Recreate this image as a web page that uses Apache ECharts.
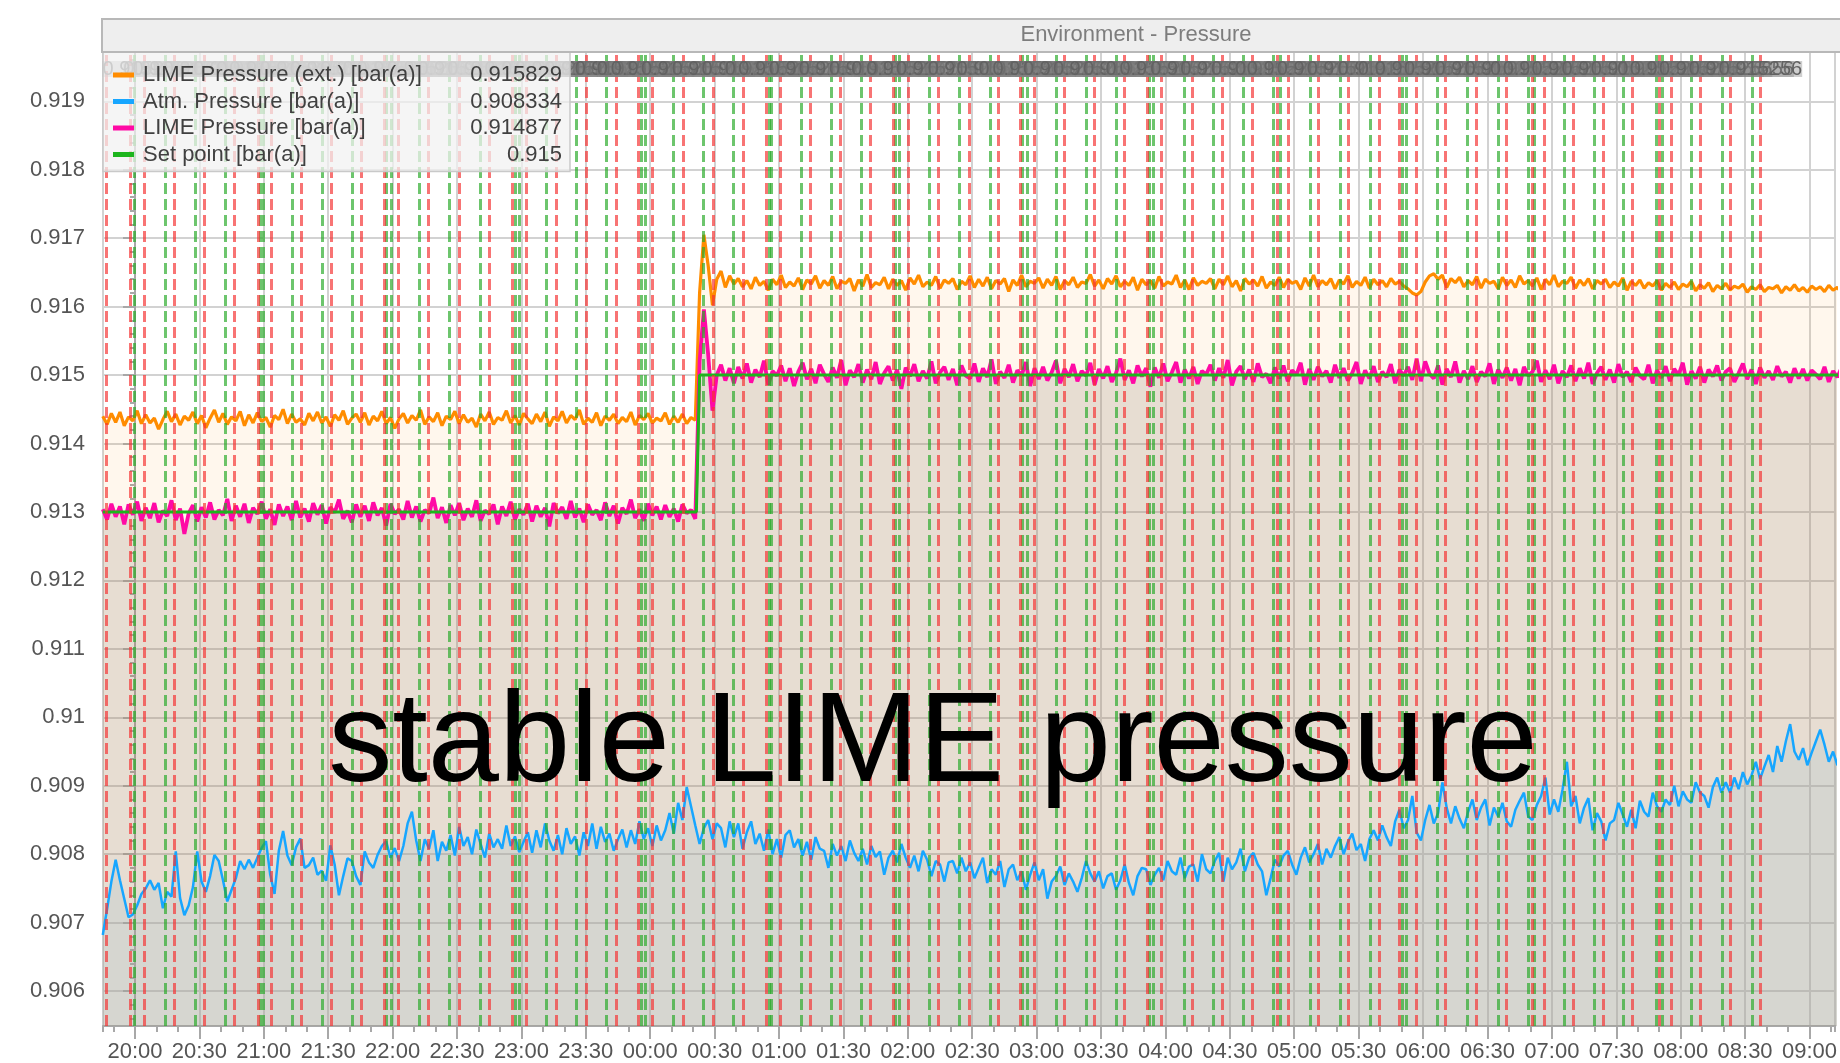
<!DOCTYPE html>
<html><head><meta charset="utf-8">
<script src="https://cdn.jsdelivr.net/npm/echarts@6/dist/echarts.min.js"></script>
<style>html,body{margin:0;padding:0;background:#fff;}#chart{width:1840px;height:1063px;}</style>
</head><body><div id="chart"></div>
<script>
// ---------- data ----------
const chartTitle = 'Environment - Pressure';
const annotationText = 'stable LIME pressure';
const seriesNames = ['LIME Pressure (ext.) [bar(a)]', 'Atm. Pressure [bar(a)]', 'LIME Pressure [bar(a)]', 'Set point [bar(a)]'];
const legendValues = ['0.915829', '0.908334', '0.914877', '0.915'];
const markerLabelText = '0.915256';
const limeStepMin = 2;   // sampling of both LIME pressure series
const atmStepMin = 2;    // sampling of the atmospheric pressure series

const limeExtBeforeStart = '19:45';
const limeExtBefore = [
0.91440,0.91428,0.91444,0.91431,0.91446,0.91426,0.91439,0.91433,0.91448,0.91429,
0.91442,0.91430,0.91437,0.91421,0.91435,0.91447,0.91432,0.91443,0.91427,0.91440,
0.91434,0.91446,0.91429,0.91441,0.91423,0.91437,0.91449,0.91431,0.91444,0.91428,
0.91439,0.91433,0.91447,0.91426,0.91442,0.91430,0.91445,0.91432,0.91438,0.91424,
0.91441,0.91435,0.91450,0.91429,0.91443,0.91431,0.91436,0.91427,0.91444,0.91433,
0.91446,0.91430,0.91439,0.91425,0.91442,0.91434,0.91448,0.91428,0.91437,0.91443,
0.91431,0.91445,0.91427,0.91440,0.91433,0.91447,0.91429,0.91438,0.91422,0.91436,
0.91444,0.91430,0.91441,0.91434,0.91449,0.91428,0.91439,0.91432,0.91445,0.91426,
0.91440,0.91435,0.91447,0.91429,0.91442,0.91431,0.91437,0.91424,0.91443,0.91433,
0.91446,0.91428,0.91438,0.91434,0.91448,0.91430,0.91441,0.91427,0.91444,0.91436,
0.91429,0.91443,0.91432,0.91446,0.91425,0.91439,0.91433,0.91447,0.91430,0.91441,
0.91435,0.91449,0.91428,0.91437,0.91431,0.91445,0.91426,0.91440,0.91434,0.91443,
0.91429,0.91438,0.91432,0.91446,0.91427,0.91441,0.91435,0.91444,0.91430,0.91437,
0.91433,0.91445,0.91428,0.91440,0.91431,0.91443,0.91429,0.91438,0.91434];
const limeExtAfterStart = '00:23';
const limeExtAfter = [
0.91620,0.91705,0.91660,0.91602,0.91640,0.91652,0.91628,0.91645,0.91633,0.91641,
0.91629,0.91638,0.91626,0.91643,0.91631,0.91637,0.91624,0.91640,0.91632,0.91646,
0.91628,0.91636,0.91630,0.91642,0.91625,0.91639,0.91633,0.91645,0.91627,0.91638,
0.91631,0.91644,0.91626,0.91637,0.91634,0.91641,0.91623,0.91639,0.91630,0.91647,
0.91628,0.91635,0.91632,0.91643,0.91626,0.91640,0.91631,0.91638,0.91624,0.91642,
0.91633,0.91646,0.91629,0.91636,0.91631,0.91644,0.91627,0.91639,0.91634,0.91641,
0.91625,0.91637,0.91632,0.91645,0.91628,0.91640,0.91630,0.91643,0.91626,0.91638,
0.91633,0.91641,0.91622,0.91639,0.91631,0.91646,0.91629,0.91637,0.91634,0.91642,
0.91627,0.91640,0.91631,0.91644,0.91625,0.91638,0.91632,0.91643,0.91628,0.91636,
0.91634,0.91647,0.91630,0.91639,0.91626,0.91641,0.91633,0.91645,0.91629,0.91637,
0.91631,0.91643,0.91624,0.91640,0.91632,0.91638,0.91627,0.91644,0.91630,0.91636,
0.91633,0.91646,0.91628,0.91639,0.91625,0.91642,0.91631,0.91637,0.91634,0.91641,
0.91626,0.91640,0.91632,0.91645,0.91629,0.91638,0.91623,0.91641,0.91633,0.91639,
0.91630,0.91644,0.91627,0.91636,0.91631,0.91643,0.91628,0.91640,0.91634,0.91637,
0.91625,0.91642,0.91630,0.91646,0.91629,0.91638,0.91632,0.91641,0.91626,0.91639,
0.91633,0.91645,0.91628,0.91637,0.91631,0.91643,0.91627,0.91640,0.91632,0.91638,
0.91629,0.91641,0.91633,0.91637,0.91630,0.91626,0.91620,0.91617,0.91622,0.91636,
0.91645,0.91648,0.91640,0.91646,0.91628,0.91641,0.91635,0.91643,0.91629,0.91638,
0.91632,0.91644,0.91627,0.91640,0.91634,0.91637,0.91626,0.91643,0.91631,0.91639,
0.91628,0.91645,0.91633,0.91638,0.91630,0.91642,0.91625,0.91640,0.91632,0.91646,
0.91629,0.91637,0.91634,0.91643,0.91627,0.91639,0.91631,0.91641,0.91626,0.91638,
0.91633,0.91640,0.91628,0.91636,0.91630,0.91642,0.91624,0.91637,0.91631,0.91639,
0.91627,0.91635,0.91630,0.91638,0.91624,0.91634,0.91628,0.91636,0.91625,0.91633,
0.91629,0.91637,0.91623,0.91632,0.91627,0.91635,0.91622,0.91631,0.91626,0.91634,
0.91624,0.91630,0.91627,0.91633,0.91621,0.91629,0.91625,0.91632,0.91622,0.91628,
0.91626,0.91631,0.91620,0.91629,0.91624,0.91632,0.91623,0.91628,0.91621,0.91630,
0.91625,0.91629,0.91622,0.91631,0.91624,0.91628,0.91620,0.91627,0.91623,0.91629];

const limeBeforeStart = '19:45';
const limeBefore = [
0.91304,0.91289,0.91312,0.91293,0.91308,0.91282,0.91311,0.91296,0.91315,0.91287,
0.91306,0.91291,0.91313,0.91285,0.91302,0.91294,0.91317,0.91288,0.91305,0.91268,
0.91298,0.91310,0.91286,0.91307,0.91292,0.91314,0.91289,0.91303,0.91295,0.91319,
0.91287,0.91309,0.91293,0.91312,0.91284,0.91306,0.91297,0.91315,0.91290,0.91304,
0.91281,0.91311,0.91294,0.91308,0.91288,0.91316,0.91292,0.91305,0.91286,0.91313,
0.91296,0.91310,0.91283,0.91307,0.91299,0.91318,0.91290,0.91302,0.91285,0.91311,
0.91293,0.91309,0.91287,0.91314,0.91295,0.91306,0.91280,0.91312,0.91297,0.91304,
0.91289,0.91316,0.91292,0.91308,0.91286,0.91303,0.91298,0.91321,0.91291,0.91307,
0.91284,0.91310,0.91295,0.91313,0.91288,0.91305,0.91293,0.91317,0.91287,0.91302,
0.91297,0.91311,0.91282,0.91308,0.91294,0.91315,0.91289,0.91304,0.91296,0.91312,
0.91286,0.91309,0.91293,0.91306,0.91279,0.91313,0.91298,0.91307,0.91290,0.91316,
0.91292,0.91305,0.91285,0.91311,0.91296,0.91303,0.91288,0.91314,0.91294,0.91309,
0.91283,0.91306,0.91297,0.91318,0.91291,0.91304,0.91287,0.91312,0.91295,0.91308,
0.91289,0.91310,0.91293,0.91305,0.91286,0.91311,0.91298,0.91303,0.91290];
const limeAfterStart = '00:23';
const limeAfter = [
0.91520,0.91596,0.91530,0.91448,0.91500,0.91515,0.91492,0.91510,0.91488,0.91512,
0.91495,0.91517,0.91489,0.91508,0.91497,0.91521,0.91486,0.91506,0.91499,0.91514,
0.91491,0.91510,0.91484,0.91505,0.91518,0.91494,0.91509,0.91488,0.91515,0.91501,
0.91490,0.91511,0.91496,0.91522,0.91485,0.91507,0.91497,0.91516,0.91489,0.91508,
0.91494,0.91519,0.91487,0.91503,0.91513,0.91492,0.91508,0.91480,0.91511,0.91498,
0.91516,0.91491,0.91506,0.91495,0.91520,0.91488,0.91504,0.91512,0.91493,0.91509,
0.91485,0.91514,0.91499,0.91495,0.91517,0.91490,0.91510,0.91497,0.91523,0.91487,
0.91505,0.91496,0.91515,0.91489,0.91507,0.91500,0.91519,0.91484,0.91510,0.91494,
0.91512,0.91492,0.91504,0.91521,0.91488,0.91509,0.91497,0.91516,0.91491,0.91506,
0.91499,0.91518,0.91486,0.91509,0.91495,0.91513,0.91490,0.91503,0.91524,0.91493,
0.91507,0.91488,0.91514,0.91498,0.91510,0.91483,0.91511,0.91496,0.91517,0.91491,
0.91504,0.91519,0.91489,0.91508,0.91495,0.91512,0.91487,0.91506,0.91501,0.91515,
0.91492,0.91510,0.91496,0.91522,0.91485,0.91505,0.91513,0.91494,0.91508,0.91490,
0.91517,0.91497,0.91502,0.91488,0.91511,0.91495,0.91514,0.91491,0.91507,0.91500,
0.91518,0.91486,0.91509,0.91493,0.91512,0.91498,0.91506,0.91489,0.91515,0.91496,
0.91510,0.91492,0.91503,0.91519,0.91487,0.91507,0.91495,0.91513,0.91490,0.91505,
0.91497,0.91516,0.91488,0.91508,0.91499,0.91512,0.91493,0.91524,0.91491,0.91520,
0.91502,0.91495,0.91514,0.91486,0.91509,0.91497,0.91520,0.91489,0.91506,0.91494,
0.91513,0.91490,0.91505,0.91498,0.91517,0.91487,0.91508,0.91496,0.91511,0.91492,
0.91509,0.91485,0.91512,0.91499,0.91505,0.91521,0.91490,0.91507,0.91494,0.91515,
0.91488,0.91506,0.91497,0.91514,0.91491,0.91510,0.91495,0.91518,0.91487,0.91503,
0.91512,0.91493,0.91508,0.91489,0.91516,0.91497,0.91505,0.91490,0.91511,0.91499,
0.91494,0.91515,0.91488,0.91507,0.91496,0.91513,0.91491,0.91509,0.91500,0.91518,
0.91486,0.91506,0.91495,0.91512,0.91489,0.91508,0.91498,0.91514,0.91492,0.91505,
0.91510,0.91490,0.91503,0.91517,0.91494,0.91508,0.91487,0.91511,0.91496,0.91506,
0.91493,0.91513,0.91498,0.91505,0.91489,0.91510,0.91495,0.91509,0.91492,0.91507,
0.91501,0.91494,0.91512,0.91490,0.91506,0.91497,0.91511,0.91493,0.91504,0.91499];

const atmStart = '19:45';
const atmPressure = [
0.90682,0.90720,0.90760,0.90792,0.90762,0.90735,0.90708,0.90712,
0.90725,0.90742,0.90750,0.90762,0.90748,0.90758,0.90721,0.90745,0.90738,0.90804,
0.90736,0.90711,0.90725,0.90752,0.90804,0.90760,0.90745,0.90768,0.90799,0.90790,
0.90762,0.90731,0.90748,0.90765,0.90790,0.90778,0.90792,0.90780,0.90795,0.90809,
0.90819,0.90770,0.90742,0.90805,0.90834,0.90798,0.90784,0.90810,0.90823,0.90780,
0.90784,0.90795,0.90770,0.90776,0.90761,0.90813,0.90785,0.90740,0.90768,0.90794,
0.90790,0.90768,0.90755,0.90804,0.90788,0.90780,0.90799,0.90812,0.90819,0.90795,
0.90809,0.90790,0.90812,0.90845,0.90862,0.90820,0.90790,0.90822,0.90808,0.90835,
0.90790,0.90818,0.90805,0.90828,0.90798,0.90840,0.90812,0.90825,0.90800,0.90836,
0.90815,0.90795,0.90830,0.90810,0.90822,0.90808,0.90842,0.90812,0.90826,0.90803,
0.90818,0.90832,0.90802,0.90835,0.90810,0.90845,0.90820,0.90805,0.90828,0.90800,
0.90838,0.90815,0.90826,0.90798,0.90832,0.90812,0.90845,0.90808,0.90840,0.90818,
0.90830,0.90805,0.90822,0.90836,0.90810,0.90835,0.90815,0.90848,0.90822,0.90838,
0.90812,0.90842,0.90820,0.90835,0.90860,0.90830,0.90875,0.90850,0.90898,0.90870,
0.90842,0.90815,0.90838,0.90850,0.90822,0.90845,0.90838,0.90810,0.90848,0.90825,
0.90845,0.90808,0.90832,0.90848,0.90815,0.90830,0.90805,0.90836,0.90800,0.90822,
0.90795,0.90828,0.90835,0.90810,0.90822,0.90798,0.90818,0.90792,0.90825,0.90808,
0.90805,0.90780,0.90815,0.90798,0.90812,0.90790,0.90820,0.90802,0.90790,0.90808,
0.90785,0.90812,0.90796,0.90804,0.90770,0.90795,0.90805,0.90788,0.90815,0.90795,
0.90780,0.90798,0.90775,0.90805,0.90792,0.90768,0.90790,0.90785,0.90760,0.90788,
0.90790,0.90772,0.90795,0.90775,0.90788,0.90765,0.90780,0.90795,0.90758,0.90778,
0.90770,0.90790,0.90752,0.90778,0.90785,0.90762,0.90775,0.90748,0.90770,0.90788,
0.90762,0.90778,0.90735,0.90760,0.90768,0.90782,0.90755,0.90772,0.90760,0.90745,
0.90765,0.90790,0.90772,0.90760,0.90775,0.90750,0.90768,0.90772,0.90748,0.90762,
0.90785,0.90758,0.90740,0.90768,0.90780,0.90778,0.90755,0.90770,0.90780,0.90762,
0.90790,0.90775,0.90770,0.90795,0.90765,0.90782,0.90785,0.90760,0.90800,0.90778,
0.90772,0.90790,0.90802,0.90760,0.90795,0.90778,0.90788,0.90808,0.90775,0.90795,
0.90802,0.90785,0.90775,0.90740,0.90765,0.90792,0.90782,0.90798,0.90805,0.90785,
0.90770,0.90795,0.90810,0.90788,0.90800,0.90815,0.90785,0.90808,0.90795,0.90812,
0.90825,0.90800,0.90818,0.90830,0.90806,0.90815,0.90790,0.90822,0.90835,0.90820,
0.90842,0.90825,0.90812,0.90848,0.90865,0.90838,0.90850,0.90885,0.90832,0.90820,
0.90850,0.90872,0.90845,0.90860,0.90905,0.90868,0.90845,0.90870,0.90852,0.90838,
0.90862,0.90880,0.90850,0.90868,0.90880,0.90842,0.90868,0.90855,0.90875,0.90848,
0.90840,0.90865,0.90878,0.90890,0.90855,0.90850,0.90872,0.90885,0.90912,0.90858,
0.90880,0.90862,0.90895,0.90935,0.90870,0.90885,0.90845,0.90868,0.90882,0.90835,
0.90860,0.90848,0.90820,0.90845,0.90850,0.90875,0.90858,0.90840,0.90865,0.90838,
0.90878,0.90862,0.90855,0.90890,0.90870,0.90862,0.90880,0.90872,0.90900,0.90870,
0.90892,0.90880,0.90875,0.90905,0.90890,0.90885,0.90868,0.90898,0.90912,0.90890,
0.90905,0.90890,0.90912,0.90895,0.90920,0.90902,0.90915,0.90935,0.90910,0.90928,
0.90945,0.90920,0.90958,0.90935,0.90965,0.90990,0.90950,0.90938,0.90955,0.90930,
0.90948,0.90965,0.90982,0.90960,0.90935,0.90950,0.90930,0.90945,0.90935,0.90948];

const setPointTimes = ['19:45', '00:21:30', '00:23', '09:15'];
const setPointValues = [0.913, 0.913, 0.915, 0.915];

const greenEvents = ['19:59:50','20:13:56','20:27:52','20:42:08','20:58:23','20:59:36','21:13:15','21:27:11','21:41:25','21:57:12','21:59:15','22:12:23','22:26:20','22:40:44','22:56:59','22:58:51','23:11:43','23:25:39','23:39:35','23:55:40','23:57:42','00:10:51','00:24:47','00:38:43','00:55:18','00:56:31','01:10:27','01:24:23','01:38:19','01:54:18','01:56:10','02:10:05','02:24:02','02:38:26','02:53:26','02:55:26','03:09:22','03:23:18','03:37:14','03:52:17','03:54:17','04:08:33','04:22:29','04:36:25','04:50:21','04:53:25','05:07:21','05:21:18','05:35:33','05:50:25','05:52:17','06:06:41','06:20:37','06:34:53','06:48:49','06:51:53','07:05:49','07:19:45','07:33:24','07:48:25','07:51:32','08:04:59','08:19:23','08:33:20'];
const redEvents = ['19:46:32','19:57:41','20:04:19','20:18:15','20:32:23','20:46:28','20:57:17','21:03:19','21:17:26','21:31:31','21:45:35','21:56:08','22:02:38','22:16:43','22:30:58','22:44:55','22:55:44','23:02:14','23:16:22','23:30:07','23:44:14','23:54:35','00:01:05','00:15:10','00:29:26','00:43:22','00:54:11','01:00:25','01:14:38','01:28:34','01:42:41','01:53:03','02:00:01','02:13:57','02:28:41','02:42:09','02:52:22','02:58:52','03:13:05','03:27:01','03:40:58','03:51:30','03:58:00','04:12:24','04:26:20','04:40:36','04:51:53','04:57:20','05:11:16','05:25:12','05:39:36','05:49:02','05:56:55','06:10:32','06:24:47','06:38:44','06:50:40','06:56:31','07:09:59','07:23:55','07:37:35','07:49:56','07:55:42','08:09:19','08:23:15','08:37:11'];

const timeAxisStart = '19:45:06';
const timeAxisEnd = '09:12';
const labelFreeBefore = '20:01';   // markers before this time carry no label (label would leave the plot)
const pressureAxisMin = 0.90549;
const pressureAxisMax = 0.91972;

// ---------- helpers ----------
function toMin(s) {
  const p = s.split(':').map(Number);
  let m = p[0] * 60 + p[1] + (p[2] || 0) / 60;
  if (p[0] < 12) m += 1440;
  return m - 1200; // minutes relative to 20:00
}
function sampled(start, step, vals) {
  const t0 = toMin(start);
  return vals.map((v, i) => [t0 + i * step, v]);
}
function fmtTime(m) {
  const r = Math.round(m);
  if (Math.abs(m - r) > 1e-6 || ((r % 30) + 30) % 30 !== 0) return '';
  const tot = 1200 + r;
  const h = Math.floor(tot / 60) % 24, mm = ((tot % 60) + 60) % 60;
  return String(h).padStart(2, '0') + ':' + String(mm).padStart(2, '0');
}
function fmtP(v) {
  const r = Math.round(v * 1000);
  if (Math.abs(v * 1000 - r) > 1e-6) return '';
  return String(r / 1000);
}

const limeExtData = sampled(limeExtBeforeStart, limeStepMin, limeExtBefore).concat(sampled(limeExtAfterStart, limeStepMin, limeExtAfter));
const limeData = sampled(limeBeforeStart, limeStepMin, limeBefore).concat(sampled(limeAfterStart, limeStepMin, limeAfter));
const atmData = sampled(atmStart, atmStepMin, atmPressure);
const setData = setPointTimes.map((t, i) => [toMin(t), setPointValues[i]]);

const xMin = toMin(timeAxisStart), xMax = toMin(timeAxisEnd);
const FONT = 'Liberation Sans, Arial, Helvetica, sans-serif';

function eventSeries(name, times, color) {
  const cut = toMin(labelFreeBefore);
  return {
    name: name, type: 'line', data: [], z: 3, silent: true,
    markLine: {
      silent: true, symbol: 'none', animation: false,
      lineStyle: { color: color, width: 3, type: [11, 5] },
      label: { show: true, position: 'end', distance: -25, formatter: () => markerLabelText,
               color: '#626262', fontSize: 20, lineHeight: 16, fontFamily: FONT,
               backgroundColor: 'rgba(130,130,130,0.38)' },
      data: times.map(t => {
        const v = toMin(t);
        return v < cut ? { xAxis: v, label: { show: false } } : { xAxis: v };
      })
    }
  };
}

const chart = echarts.init(document.getElementById('chart'), null, { renderer: 'canvas' });
chart.setOption({
  animation: false,
  backgroundColor: '#ffffff',
  grid: { left: 103, right: 0, top: 52, bottom: 35, containLabel: false },
  legend: {
    data: seriesNames, orient: 'vertical', left: 103, top: 52,
    padding: [12, 8, 6, 10], itemGap: 4.5, itemWidth: 21, itemHeight: 5, icon: 'rect',
    backgroundColor: 'rgba(242,242,242,0.74)', borderColor: '#c9c9c9', borderWidth: 1.5,
    selectedMode: false, z: 10,
    formatter: name => '{n|' + name + '}{v|' + legendValues[seriesNames.indexOf(name)] + '}',
    textStyle: {
      color: '#404040', fontSize: 22, fontFamily: FONT,
      rich: {
        n: { width: 296, fontSize: 22, color: '#404040', fontFamily: FONT, padding: [0, 0, 0, 4] },
        v: { width: 123, align: 'right', fontSize: 22, color: '#404040', fontFamily: FONT }
      }
    }
  },
  xAxis: [{
    type: 'value', position: 'bottom', min: xMin, max: xMax,
    splitNumber: 27, minInterval: 30, maxInterval: 30,
    axisLine: { show: true, lineStyle: { color: '#a8a8a8', width: 2 } },
    axisTick: { show: true, length: 13, lineStyle: { color: '#a8a8a8', width: 2 } },
    axisLabel: { formatter: fmtTime, color: '#555', fontSize: 22, fontFamily: FONT, margin: 15,
                 showMinLabel: false, showMaxLabel: false },
    splitLine: { show: true, lineStyle: { color: '#d2d2d2', width: 2 } }
  }, {
    type: 'value', position: 'bottom', min: xMin, max: xMax,
    splitNumber: 80, minInterval: 10, maxInterval: 10,
    axisLine: { show: false },
    axisTick: { show: true, length: 6, lineStyle: { color: '#a8a8a8', width: 2 } },
    axisLabel: { show: false },
    splitLine: { show: false }
  }],
  yAxis: {
    type: 'value', min: pressureAxisMin, max: pressureAxisMax,
    splitNumber: 14, minInterval: 0.001, maxInterval: 0.001,
    axisLine: { show: true, lineStyle: { color: '#a8a8a8', width: 2 } },
    axisTick: { show: true, length: 12, lineStyle: { color: '#a8a8a8', width: 2 } },
    minorTick: { show: true, splitNumber: 5, length: 5, lineStyle: { color: '#a8a8a8', width: 2 } },
    axisLabel: { formatter: fmtP, color: '#555', fontSize: 22, fontFamily: FONT, margin: 18,
                 showMinLabel: false, showMaxLabel: false },
    splitLine: { show: true, lineStyle: { color: '#d2d2d2', width: 2 } }
  },
  series: [
    { name: 'area-ext', type: 'line', data: limeExtData, showSymbol: false, silent: true, z: 1,
      lineStyle: { opacity: 0 }, areaStyle: { color: 'rgba(255,140,0,0.1)', origin: 'start' } },
    { name: 'area-lime', type: 'line', data: limeData, showSymbol: false, silent: true, z: 1,
      lineStyle: { opacity: 0 }, areaStyle: { color: 'rgba(150,132,122,0.33)', origin: 'start' } },
    { name: 'area-atm', type: 'line', data: atmData, showSymbol: false, silent: true, z: 1,
      lineStyle: { opacity: 0 }, areaStyle: { color: 'rgba(160,192,205,0.33)', origin: 'start' } },
    { name: seriesNames[0], type: 'line', data: limeExtData, showSymbol: false, z: 2, color: '#ff8c00',
      lineStyle: { width: 3.2, color: '#ff8c00' } },
    { name: seriesNames[1], type: 'line', data: atmData, showSymbol: false, z: 2, color: '#17a6ff',
      lineStyle: { width: 2.5, color: '#17a6ff' } },
    { name: seriesNames[2], type: 'line', data: limeData, showSymbol: false, z: 2, color: '#ff0aa5',
      lineStyle: { width: 3.8, color: '#ff0aa5' } },
    { name: seriesNames[3], type: 'line', data: setData, showSymbol: false, z: 2, color: '#1db51d',
      lineStyle: { width: 3, color: '#1db51d' } },
    eventSeries('green events', greenEvents, 'rgba(40,170,40,0.68)'),
    eventSeries('red events', redEvents, 'rgba(245,50,50,0.68)')
  ],
  graphic: [
    { type: 'rect', z: 50, silent: true, shape: { x: 102, y: 19, width: 1760, height: 33 },
      style: { fill: '#eeeeee', stroke: '#b8b8b8', lineWidth: 2 } },
    { type: 'text', z: 51, silent: true, x: 1136, y: 35,
      style: { text: chartTitle, fill: '#7d7d7d', font: '22px ' + FONT, textAlign: 'center', textVerticalAlign: 'middle' } },
    { type: 'text', z: 100, silent: true, x: 933, y: 746,
      style: { text: annotationText, fill: '#000', font: '128px ' + FONT, textAlign: 'center', textVerticalAlign: 'middle' } }
  ]
});
</script></body></html>
